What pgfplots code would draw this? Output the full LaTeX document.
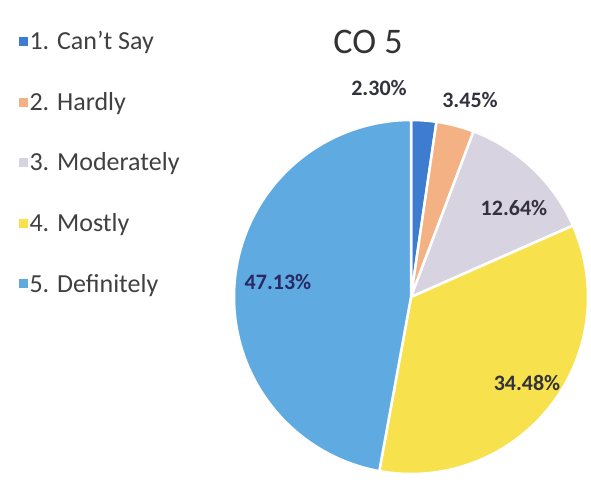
\documentclass[border=0pt]{standalone}
\usepackage{pgfplots}
\usepackage{pgfplotstable}
\pgfplotsset{compat=1.18}
\usepackage{fontspec}
\setmainfont{Carlito}
\definecolor{cA}{RGB}{62,124,208}
\definecolor{cB}{RGB}{244,178,132}
\definecolor{cC}{RGB}{216,211,224}
\definecolor{cD}{RGB}{247,226,78}
\definecolor{cE}{RGB}{96,170,226}
\definecolor{lbl}{RGB}{50,50,60}
\pgfplotstableread{
id value
1 2.30
2 3.45
3 12.64
4 34.48
5 47.13
}\piedata
\pgfplotstablegetelem{0}{value}\of\piedata\pgfmathsetmacro\va{\pgfplotsretval}%
\pgfplotstablegetelem{1}{value}\of\piedata\pgfmathsetmacro\vb{\pgfplotsretval}%
\pgfplotstablegetelem{2}{value}\of\piedata\pgfmathsetmacro\vc{\pgfplotsretval}%
\pgfplotstablegetelem{3}{value}\of\piedata\pgfmathsetmacro\vd{\pgfplotsretval}%
\pgfplotstablegetelem{4}{value}\of\piedata\pgfmathsetmacro\ve{\pgfplotsretval}%
\pgfmathsetmacro\aA{90}%
\pgfmathsetmacro\aB{90-3.6*\va}%
\pgfmathsetmacro\aC{90-3.6*(\va+\vb)}%
\pgfmathsetmacro\aD{90-3.6*(\va+\vb+\vc)}%
\pgfmathsetmacro\aE{90-3.6*(\va+\vb+\vc+\vd)}%
\pgfmathsetmacro\aF{90-3.6*(\va+\vb+\vc+\vd+\ve)}%
\def\cx{411}\def\cy{190}\def\R{177}%
\begin{document}%
\begin{tikzpicture}
\begin{axis}[
  width=591pt, height=487pt, scale only axis,
  xmin=0, xmax=591, ymin=0, ymax=487,
  axis line style={draw=none}, ticks=none, clip=false,
  legend image code/.code={\path[#1, draw=none] (0pt,-4.5pt) rectangle (9pt,4.5pt);},
  legend style={at={(0.026,0.944)}, anchor=north west, draw=none, fill=none,
    font=\fontsize{26}{30}\selectfont, text=black!75, row sep=37pt,
    /tikz/every even column/.append style={column sep=5pt}},
  legend cell align=left,
]
\addplot[fill=cA, draw=white, line width=2.5pt, domain=\aB:\aA, samples=40, variable=\t]
  ({\cx+\R*cos(\t)},{\cy+\R*sin(\t)}) -- (axis cs:\cx,\cy) -- cycle;
\addlegendentry{1. Can't Say}
\addplot[fill=cB, draw=white, line width=2.5pt, domain=\aC:\aB, samples=40, variable=\t]
  ({\cx+\R*cos(\t)},{\cy+\R*sin(\t)}) -- (axis cs:\cx,\cy) -- cycle;
\addlegendentry{2. Hardly}
\addplot[fill=cC, draw=white, line width=2.5pt, domain=\aD:\aC, samples=60, variable=\t]
  ({\cx+\R*cos(\t)},{\cy+\R*sin(\t)}) -- (axis cs:\cx,\cy) -- cycle;
\addlegendentry{3. Moderately}
\addplot[fill=cD, draw=white, line width=2.5pt, domain=\aE:\aD, samples=100, variable=\t]
  ({\cx+\R*cos(\t)},{\cy+\R*sin(\t)}) -- (axis cs:\cx,\cy) -- cycle;
\addlegendentry{4. Mostly}
\addplot[fill=cE, draw=white, line width=2.5pt, domain=\aF:\aE, samples=120, variable=\t]
  ({\cx+\R*cos(\t)},{\cy+\R*sin(\t)}) -- (axis cs:\cx,\cy) -- cycle;
\addlegendentry{5. Definitely}
\node[font=\fontsize{36}{40}\selectfont, text=black!80] at (axis cs:368,445) {CO 5};
\node[font=\fontsize{22}{26}\selectfont\bfseries, text=lbl] at (axis cs:379,399) {2.30\%};
\node[font=\fontsize{22}{26}\selectfont\bfseries, text=lbl] at (axis cs:470,387) {3.45\%};
\node[font=\fontsize{22}{26}\selectfont\bfseries, text=lbl] at (axis cs:514,279) {12.64\%};
\node[font=\fontsize{22}{26}\selectfont\bfseries, text=lbl] at (axis cs:527,104) {34.48\%};
\node[font=\fontsize{22}{26}\selectfont\bfseries, text=lbl!80!blue] at (axis cs:278,205) {47.13\%};
\end{axis}
\end{tikzpicture}%
\end{document}
